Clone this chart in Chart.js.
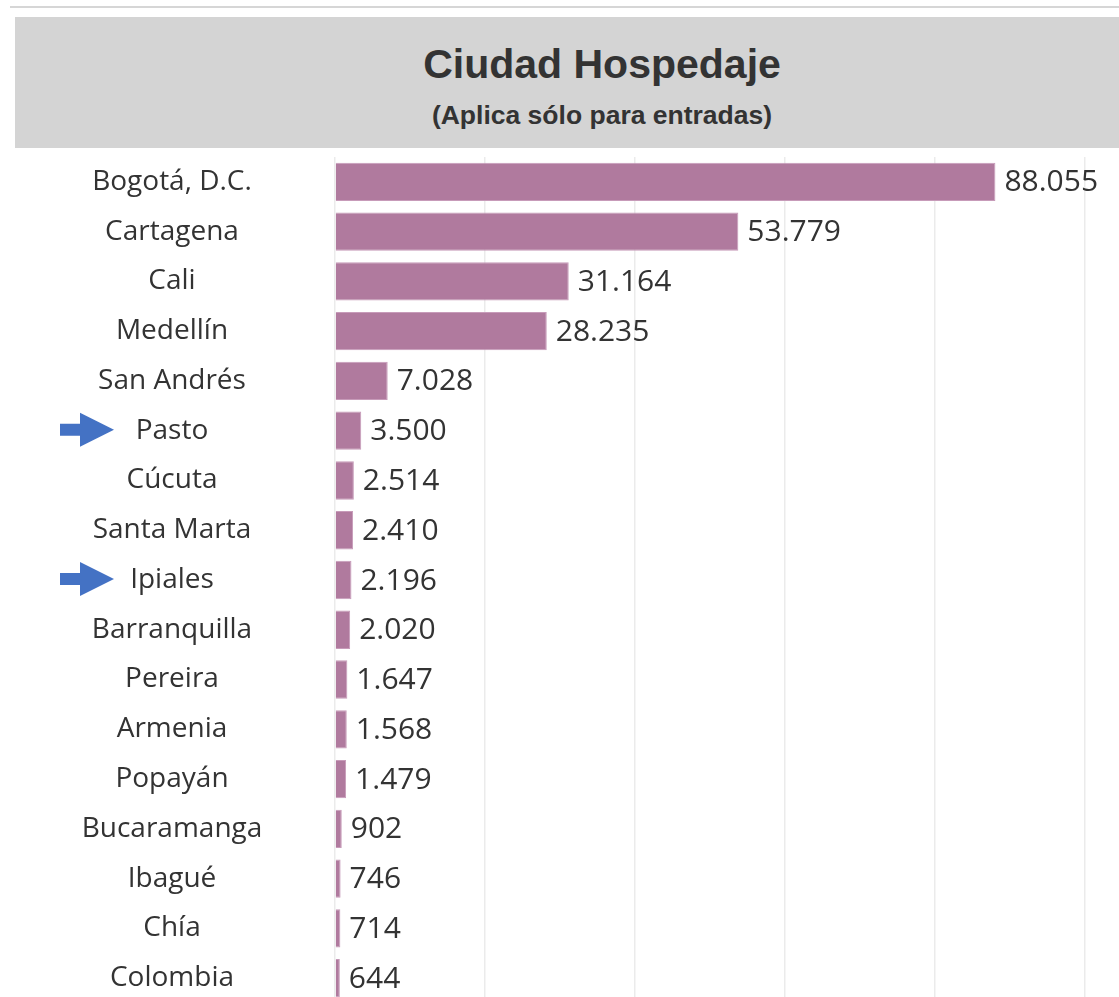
<!DOCTYPE html>
<html>
<head>
<meta charset="utf-8">
<script src="https://cdn.jsdelivr.net/npm/chart.js@4.4.1/dist/chart.umd.min.js"></script>
<style>
  html, body { margin: 0; padding: 0; background: #fff; }
  #wrap { position: relative; width: 1119px; height: 997px; overflow: hidden; }
  #topline { position: absolute; left: 10px; top: 6px; width: 1109px; height: 2px; background: #d6d6d6; }
  #band { position: absolute; left: 15px; top: 17px; width: 1104px; height: 131px; background: #d4d4d4; }
  #title { position: absolute; left: 50px; width: 1104px; top: 41px; text-align: center;
           font: bold 41px "Liberation Sans", Arial, sans-serif; color: #333; line-height: 46px; }
  #subtitle { position: absolute; left: 50px; width: 1104px; top: 99px; text-align: center;
              font: bold 26.5px "Liberation Sans", Arial, sans-serif; color: #333; line-height: 32px; }
  #chart { position: absolute; left: 0; top: 0; }
</style>
</head>
<body>
<div id="wrap">
  <div id="topline"></div>
  <div id="band"></div>
  <div id="title">Ciudad Hospedaje</div>
  <div id="subtitle">(Aplica sólo para entradas)</div>
  <canvas id="chart" width="1235" height="1003"></canvas>
</div>
<script>
const ciudades = ["Bogotá, D.C.", "Cartagena", "Cali", "Medellín", "San Andrés", "Pasto", "Cúcuta",
  "Santa Marta", "Ipiales", "Barranquilla", "Pereira", "Armenia", "Popayán", "Bucaramanga",
  "Ibagué", "Chía", "Colombia"];
const huespedes = [88055, 53779, 31164, 28235, 7028, 3500, 2514, 2410, 2196, 2020, 1647, 1568,
  1479, 902, 746, 714, 644];
const destacadas = ["Pasto", "Ipiales"];

const labelFont = '28px "Open Sans", sans-serif';
const labelCenter = 172;
const axisWidth = 335;

// widest label decides how much padding keeps the labels centred on labelCenter
const meas = document.createElement("canvas").getContext("2d");
meas.font = labelFont;
const widest = Math.max(...ciudades.map(c => meas.measureText(c).width));

function miles(n) {
  return String(n).replace(/\B(?=(\d{3})+(?!\d))/g, ".");
}

const valueLabels = {
  id: "valueLabels",
  afterDatasetsDraw(chart) {
    const ctx = chart.ctx;
    ctx.save();
    ctx.font = '30px "Open Sans", sans-serif';
    ctx.fillStyle = "#333";
    ctx.textBaseline = "middle";
    chart.getDatasetMeta(0).data.forEach((bar, i) => {
      ctx.fillText(miles(huespedes[i]), bar.x + 9, bar.y + 1);
    });
    ctx.restore();
  }
};

const arrows = {
  id: "arrows",
  afterDraw(chart) {
    const ctx = chart.ctx;
    const y = chart.scales.y;
    ctx.save();
    ctx.fillStyle = "#4472c4";
    destacadas.forEach(name => {
      const cy = y.getPixelForValue(ciudades.indexOf(name)) - 1;
      ctx.beginPath();
      ctx.moveTo(60, cy - 6);
      ctx.lineTo(80, cy - 6);
      ctx.lineTo(80, cy - 17);
      ctx.lineTo(114, cy);
      ctx.lineTo(80, cy + 17);
      ctx.lineTo(80, cy + 6);
      ctx.lineTo(60, cy + 6);
      ctx.closePath();
      ctx.fill();
    });
    ctx.restore();
  }
};

new Chart(document.getElementById("chart").getContext("2d"), {
  type: "bar",
  data: {
    labels: ciudades,
    datasets: [{
      data: huespedes,
      backgroundColor: "#b07a9e",
      borderColor: "#c79bb9",
      borderWidth: 1,
      barPercentage: 0.77,
      categoryPercentage: 1
    }]
  },
  options: {
    indexAxis: "y",
    responsive: false,
    animation: false,
    layout: { padding: { top: 157, bottom: 0, left: 0, right: 0 } },
    plugins: { legend: { display: false }, tooltip: { enabled: false } },
    scales: {
      x: {
        min: 0,
        max: 120000,
        ticks: { display: false, stepSize: 20000 },
        grid: { color: "#ebebeb", lineWidth: 1.5, drawTicks: false },
        border: { display: false }
      },
      y: {
        ticks: {
          font: { family: "Open Sans", size: 28 },
          color: "#333",
          crossAlign: "center",
          padding: axisWidth - labelCenter - widest / 2
        },
        grid: { display: false, drawTicks: false },
        border: { display: false },
        afterFit(scale) {
          scale.width = axisWidth;
          // the big label padding should not eat vertical room
          scale.paddingTop = 0;
          scale.paddingBottom = 0;
        }
      }
    }
  },
  plugins: [valueLabels, arrows]
});
</script>
</body>
</html>
